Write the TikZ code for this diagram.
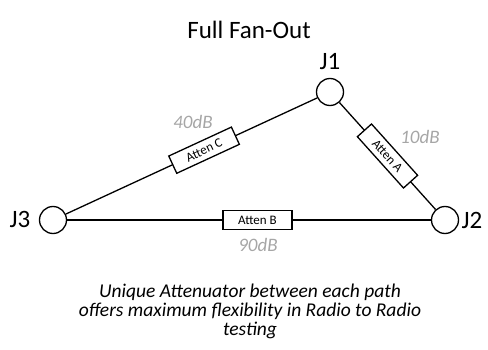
\documentclass[tikz,border=0pt]{standalone}
\usepackage{fontspec}
\setmainfont{Carlito}
\usetikzlibrary{positioning}
\definecolor{dbgray}{RGB}{166,166,166}
\tikzset{
  jack/.style    = {circle, draw, line width=1.3pt, fill=white, minimum size=27pt,
                    inner sep=0pt},
  atten/.style   = {draw, line width=1.3pt, fill=white, minimum width=69pt,
                    minimum height=19pt, inner sep=0pt, font=\fontsize{13}{15}\selectfont},
  wire/.style    = {line width=1.3pt},
  jlabel/.style  = {font=\fontsize{25}{28}\selectfont},
  dblabel/.style = {text=dbgray, font=\itshape\fontsize{19}{22}\selectfont},
}

\begin{document}
\begin{tikzpicture}[x=1pt,y=-1pt]
  \useasboundingbox (0,0) rectangle (488,350);
  \node[font=\fontsize{25}{28}\selectfont] (title) at (249,30) {Full Fan-Out};
  % jacks
  \node[jack] (j1) at (330,92) {};
  \node[jack] (j2) at (445,220) {};
  \node[jack] (j3) at (53,220) {};
  \node[jlabel] (lj1) at (330,62) {J1};
  \node[jlabel] (lj2) at (472,220) {J2};
  \node[jlabel] (lj3) at (20,219) {J3};
  % paths with attenuators
  \draw[wire] (j3) -- node[atten, sloped, pos=0.55] (attc) {Atten C} (j1);
  \draw[wire] (j1) -- node[atten, sloped, pos=0.5] (atta) {Atten A} (j2);
  \draw[wire] (j3) -- node[atten, pos=0.523] (attb) {Atten B} (j2);
  \node[dblabel] (dbc) at (193,122) {40dB};
  \node[dblabel] (dba) at (420,137) {10dB};
  \node[dblabel] (dbb) at (258,245) {90dB};
  \node[align=center, font=\itshape\fontsize{19.5}{19}\selectfont] (note) at (250,311)
    {Unique Attenuator between each path\\offers maximum flexibility in Radio to Radio\\testing};
\end{tikzpicture}
\end{document}
